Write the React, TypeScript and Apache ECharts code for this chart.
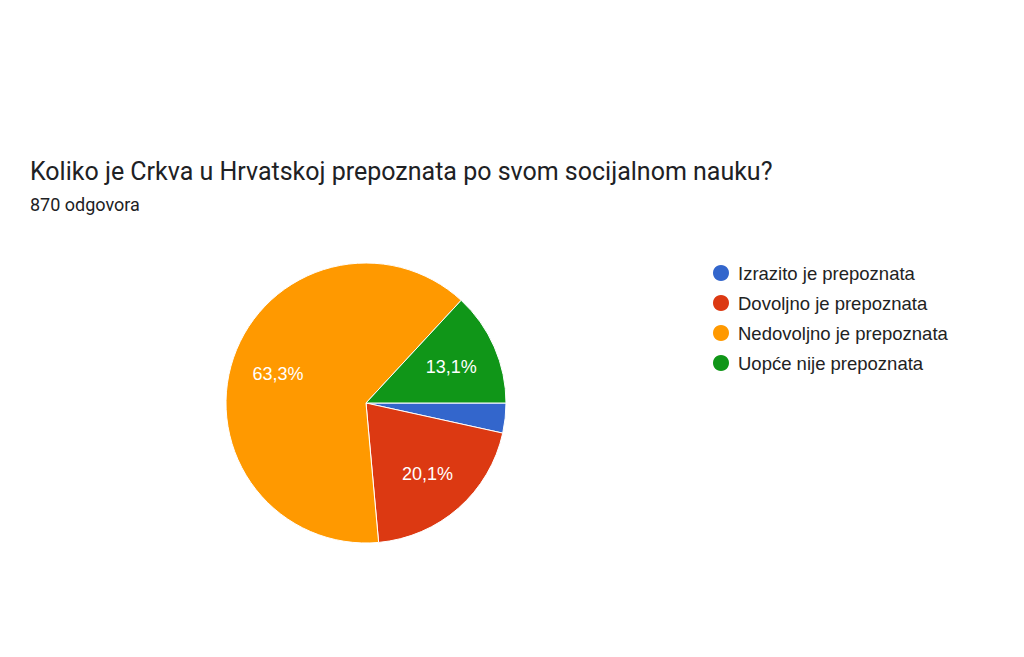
import { useEffect, useRef } from "react";
import * as echarts from "echarts";

const TITLE = "Koliko je Crkva u Hrvatskoj prepoznata po svom socijalnom nauku?";
const SUBTITLE = "870 odgovora";

const CATEGORIES = [
  "Izrazito je prepoznata",
  "Dovoljno je prepoznata",
  "Nedovoljno je prepoznata",
  "Uopće nije prepoznata",
];
const COUNTS = [30, 175, 551, 114];
const COLORS = ["#3366cc", "#dc3912", "#ff9900", "#109618"];

const TOTAL = COUNTS.reduce((a, b) => a + b, 0);

function pctLabel(value: number) {
  const p = (value / TOTAL) * 100;
  if (p < 5) return "";
  return p.toFixed(1).replace(".", ",") + "%";
}

export default function App() {
  const chartRef = useRef<HTMLDivElement>(null);

  useEffect(() => {
    if (!chartRef.current) return;
    const chart = echarts.init(chartRef.current, undefined, { renderer: "svg" });

    const pieData = CATEGORIES.map((name, i) => ({ name, value: COUNTS[i] }));

    chart.setOption({
      animation: false,
      backgroundColor: "#ffffff",
      color: COLORS,
      title: {
        text: TITLE,
        subtext: SUBTITLE,
        left: 25,
        top: 154,
        itemGap: 11,
        textStyle: {
          fontFamily: "Roboto",
          fontSize: 25,
          fontWeight: "normal",
          color: "#202124",
        },
        subtextStyle: {
          fontFamily: "Roboto",
          fontSize: 18,
          color: "#202124",
        },
      },
      legend: {
        orient: "vertical",
        left: 706,
        top: 258,
        icon: "circle",
        itemWidth: 18,
        itemHeight: 18,
        itemGap: 10,
        data: CATEGORIES,
        textStyle: {
          fontFamily: "Liberation Sans",
          fontSize: 18.5,
          lineHeight: 18,
          color: "#222222",
          padding: [0, 0, 0, 3],
        },
      },
      series: [
        {
          type: "pie",
          center: [366, 403],
          radius: 140,
          startAngle: 0,
          clockwise: true,
          data: pieData,
          label: { show: false },
          labelLine: { show: false },
          itemStyle: { borderColor: "#ffffff", borderWidth: 1 },
          emphasis: { disabled: true },
        },
        {
          // transparent overlay so the percentage labels sit further out
          type: "pie",
          center: [366, 404],
          radius: [0, 180],
          startAngle: 0,
          clockwise: true,
          silent: true,
          data: pieData,
          itemStyle: { color: "transparent", borderWidth: 0 },
          labelLine: { show: false },
          label: {
            show: true,
            position: "inside",
            formatter: (p: any) => pctLabel(p.value),
            color: "#ffffff",
            fontFamily: "Liberation Sans",
            fontSize: 18,
          },
          emphasis: { disabled: true },
        },
      ],
    });

    return () => chart.dispose();
  }, []);

  return (
    <div
      ref={chartRef}
      style={{ position: "fixed", left: 0, top: 0, width: "1024px", height: "657px" }}
    />
  );
}
